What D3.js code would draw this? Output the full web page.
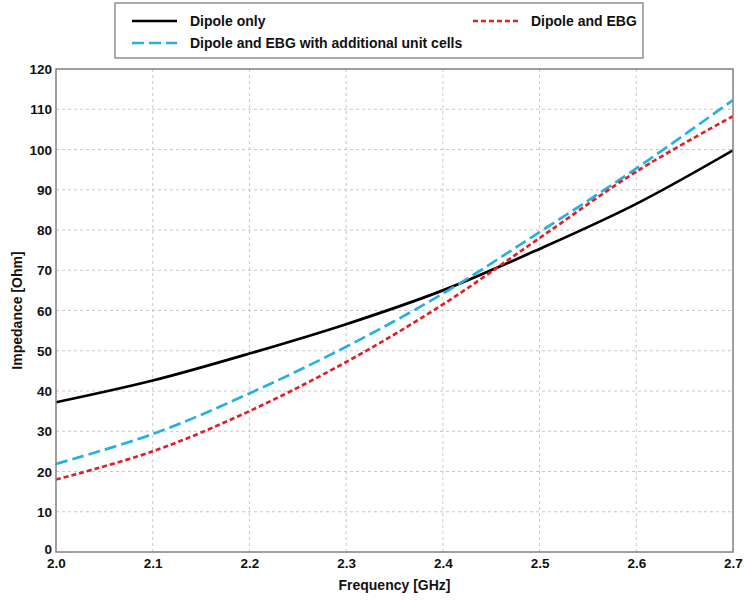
<!DOCTYPE html>
<html><head><meta charset="utf-8">
<script src="https://cdn.jsdelivr.net/npm/d3@7"></script>
<style>body{margin:0;background:#fff;} svg{display:block;font-family:"Liberation Sans",Arial,sans-serif;}</style>
</head><body>
<svg id="chart" width="744" height="600"></svg>
<script>
const frequency = [2.0, 2.1, 2.2, 2.3, 2.4, 2.5, 2.6, 2.7];
const dipoleOnly = [37.2, 42.6, 49.3, 56.6, 65.0, 75.3, 86.5, 99.8];
const dipoleEBGCells = [21.9, 29.3, 39.4, 51.0, 64.2, 79.5, 95.3, 112.3];
const dipoleEBG = [18.0, 25.0, 35.0, 47.2, 61.5, 78.0, 94.5, 108.3];
const xTicks = [2.0, 2.1, 2.2, 2.3, 2.4, 2.5, 2.6, 2.7];
const yTicks = [0, 10, 20, 30, 40, 50, 60, 70, 80, 90, 100, 110, 120];
const seriesNames = ["Dipole only", "Dipole and EBG", "Dipole and EBG with additional unit cells"];

const svg = d3.select("#chart");
const L = 56, R = 733, T = 69, B = 552;
const x = d3.scaleLinear().domain([2.0, 2.7]).range([L, R]);
const y = d3.scaleLinear().domain([0, 120]).range([B, T]);

// grid
const g = svg.append("g");
g.selectAll(".vg").data(xTicks.slice(1, -1)).enter().append("line")
  .attr("x1", d => x(d)).attr("x2", d => x(d)).attr("y1", T).attr("y2", B)
  .attr("stroke", "#c8c8c8").attr("stroke-width", 1).attr("stroke-dasharray", "3,3");
g.selectAll(".hg").data(yTicks.slice(1, -1)).enter().append("line")
  .attr("x1", L).attr("x2", R).attr("y1", d => y(d)).attr("y2", d => y(d))
  .attr("stroke", "#c8c8c8").attr("stroke-width", 1).attr("stroke-dasharray", "3,3");

// axes (labels only)
const xAxis = d3.axisBottom(x).tickValues(xTicks).tickFormat(d3.format(".1f")).tickSize(0).tickPadding(6);
const yAxis = d3.axisLeft(y).tickValues(yTicks).tickFormat(d3.format("d")).tickSize(0).tickPadding(4);
const gx = svg.append("g").attr("transform", `translate(0,${B})`).call(xAxis);
const gy = svg.append("g").attr("transform", `translate(${L},0)`).call(yAxis);
[gx, gy].forEach(a => {
  a.select(".domain").remove();
  a.selectAll("text").attr("font-size", 13.5).attr("font-weight", "bold").attr("fill", "#111")
    .attr("font-family", "'Liberation Sans', Arial, sans-serif");
});
gy.selectAll("text").attr("dy", d => d === 0 ? "0.1em" : "0.35em");

// series
const line = d3.line().x((d, i) => x(frequency[i])).y(d => y(d)).curve(d3.curveCatmullRom.alpha(0.5));
const series = [
  {name: seriesNames[0], values: dipoleOnly, color: "#000000", dash: null},
  {name: seriesNames[2], values: dipoleEBGCells, color: "#27b1e0", dash: "12,5"},
  {name: seriesNames[1], values: dipoleEBG, color: "#e21e26", dash: "5,3"}
];
svg.append("clipPath").attr("id", "clip").append("rect")
  .attr("x", L).attr("y", T).attr("width", R - L).attr("height", B - T);
series.forEach(s => {
  svg.append("path").datum(s.values).attr("d", line)
    .attr("fill", "none").attr("stroke", s.color).attr("stroke-width", 2.7)
    .attr("stroke-dasharray", s.dash).attr("clip-path", "url(#clip)");
});

// frame
svg.append("rect").attr("x", L).attr("y", T).attr("width", R - L).attr("height", B - T)
  .attr("fill", "none").attr("stroke", "#808080").attr("stroke-width", 1.5);

// axis titles
svg.append("text").attr("x", (L + R) / 2).attr("y", 590).attr("text-anchor", "middle")
  .attr("font-size", 14).attr("font-weight", "bold").attr("fill", "#111").text("Frequency [GHz]");
svg.append("text").attr("transform", `translate(22,${(T + B) / 2}) rotate(-90)`).attr("text-anchor", "middle")
  .attr("font-size", 14).attr("font-weight", "bold").attr("fill", "#111").text("Impedance [Ohm]");

// legend
svg.append("rect").attr("x", 115).attr("y", 3).attr("width", 528).attr("height", 55)
  .attr("fill", "#fff").attr("stroke", "#909090").attr("stroke-width", 1.5);
const leg = [
  {s: series[0], x: 132, y: 21},
  {s: series[2], x: 473, y: 21},
  {s: series[1], x: 132, y: 43}
];
leg.forEach(l => {
  svg.append("line").attr("x1", l.x).attr("x2", l.x + 45).attr("y1", l.y).attr("y2", l.y)
    .attr("stroke", l.s.color).attr("stroke-width", 2.7).attr("stroke-dasharray", l.s.dash);
  svg.append("text").attr("x", l.x + 58).attr("y", l.y).attr("dy", "0.35em")
    .attr("font-size", 14).attr("font-weight", "bold").attr("fill", "#111").text(l.s.name);
});
</script>
</body></html>
